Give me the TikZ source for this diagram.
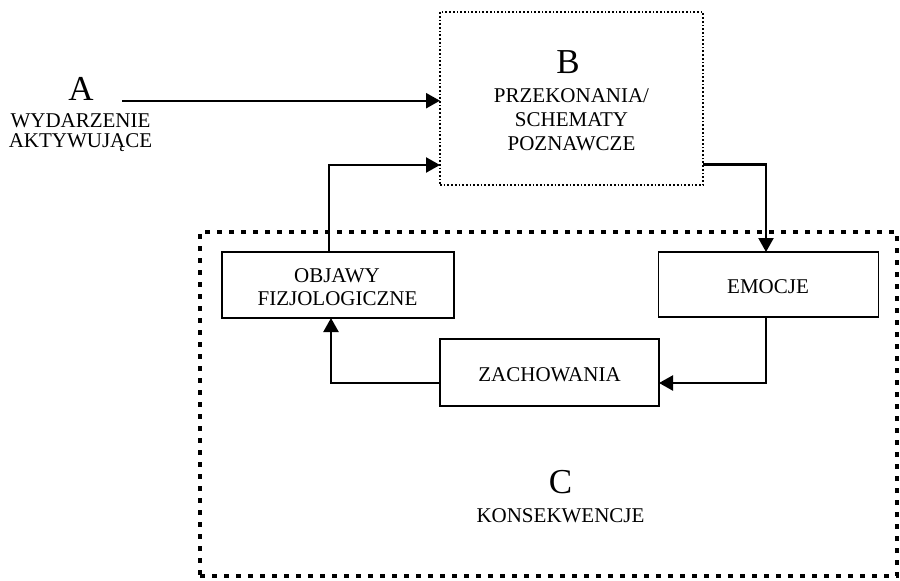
\documentclass[tikz,border=0pt]{standalone}
\usepackage{fontspec}
\setmainfont{Liberation Serif}
\usetikzlibrary{arrows.meta}
\tikzset{
  txt/.style={inner sep=0pt, outer sep=0pt, anchor=base, font=\fontsize{21}{21}\selectfont},
  big/.style={inner sep=0pt, outer sep=0pt, anchor=base, font=\fontsize{35}{35}\selectfont},
  box/.style={draw, line width=1.6pt, inner sep=0pt, outer sep=0pt},
  bdot/.style={draw, line width=1.7pt, dash pattern=on 1.7pt off 2pt, inner sep=0pt, outer sep=0pt},
  cdash/.style={draw, line width=4.5pt, dash pattern=on 5pt off 7pt, inner sep=0pt, outer sep=0pt},
  conn/.style={line width=2.3pt, -{Triangle[length=14pt,width=15pt]}},
}
\begin{document}
\begin{tikzpicture}[x=1pt,y=-1pt]
\fill[white] (0,0) rectangle (900,581);
\useasboundingbox (0,0) rectangle (900,581);

% big consequence box
\node[cdash, minimum width=697pt, minimum height=344pt] (C) at (548.5,404) {};
% belief box
\node[bdot, minimum width=263pt, minimum height=173pt] (B) at (571.5,98.5) {};
% inner boxes
\node[box, minimum width=232pt, minimum height=66pt] (OB) at (338,285) {};
\node[box, minimum width=220pt, minimum height=65pt] (EM) at (768.5,284.5) {};
\node[box, minimum width=219pt, minimum height=67pt] (ZA) at (549.5,372.5) {};

% texts
\node[big] (Aa) at (81,100) {A};
\node[txt] (Ab) at (80.5,127.5) {WYDARZENIE};
\node[txt] (Ac) at (80.5,147) {AKTYWUJĄCE};

\node[big] (Ba) at (568,73) {B};
\node[txt] (Bb) at (571.5,102) {PRZEKONANIA/};
\node[txt] (Bc) at (571.5,126) {SCHEMATY};
\node[txt] (Bd) at (571.5,150) {POZNAWCZE};

\node[txt] (OBa) at (337,282) {OBJAWY};
\node[txt] (OBb) at (337.5,305) {FIZJOLOGICZNE};
\node[txt] (EMa) at (768,293) {EMOCJE};
\node[txt] (ZAa) at (549.5,381) {ZACHOWANIA};

\node[big] (Ca) at (560.5,493) {C};
\node[txt] (Cb) at (560.5,522) {KONSEKWENCJE};

% connectors
\coordinate (a1) at (122,100.7);
\draw[conn] (a1) -- (a1 -| B.west);
\coordinate (b1) at (766,164.5);
\draw[conn] (B.east |- b1) -- (b1) -- (b1 |- EM.north);
\coordinate (e1) at (766,383);
\draw[conn] (e1 |- EM.south) -- (e1) -- (e1 -| ZA.east);
\coordinate (z1) at (331,383);
\draw[conn] (ZA.west |- z1) -- (z1) -- (z1 |- OB.south);
\coordinate (o1) at (329,165);
\draw[conn] (o1 |- OB.north) -- (o1) -- (o1 -| B.west);
\end{tikzpicture}
\end{document}
